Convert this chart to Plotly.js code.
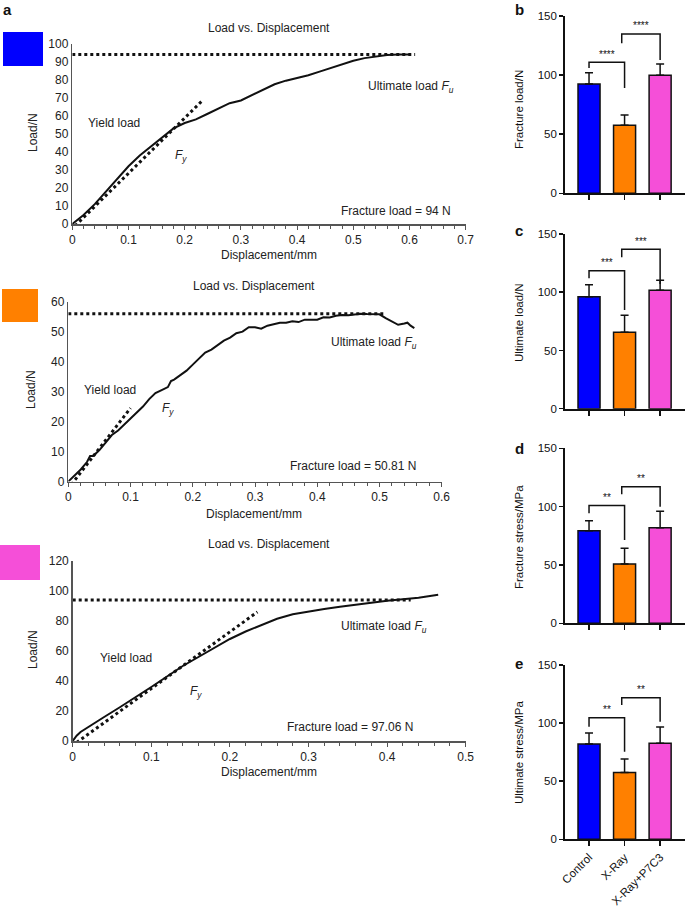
<!DOCTYPE html>
<html><head><meta charset="utf-8">
<script src="https://cdn.plot.ly/plotly-3.0.1.min.js"></script>
<style>html,body{margin:0;padding:0;background:#fff}#chart{width:685px;height:909px}</style>
</head><body><div id="chart"></div>
<script>
// ---------- Data: panel a (load vs displacement curves) ----------
const disp1 = [0,0.02,0.04,0.06,0.08,0.1,0.12,0.14,0.16,0.18,0.2,0.22,0.24,0.26,0.28,0.3,0.32,0.34,0.36,0.38,0.4,0.42,0.44,0.46,0.48,0.5,0.52,0.54,0.56,0.58,0.6];
const load1 = [0,5,11,18,25,32,38,43,48,53,56,58,61,64,67,68.5,71.5,74.5,77.5,79.5,81,82.5,84.5,86.5,88.5,90.5,92,93,93.7,94,94];
const ultLine1X = [0,0.61], ultLine1Y = [94,94];
const yieldLine1X = [0.005,0.23], yieldLine1Y = [-1,68];

const disp2 = [0,0.01,0.02,0.03,0.035,0.04,0.05,0.06,0.07,0.08,0.09,0.1,0.11,0.12,0.13,0.14,0.15,0.16,0.165,0.17,0.18,0.19,0.2,0.21,0.22,0.23,0.24,0.25,0.26,0.27,0.28,0.29,0.3,0.31,0.32,0.33,0.34,0.35,0.36,0.37,0.38,0.39,0.4,0.41,0.42,0.43,0.44,0.45,0.46,0.47,0.48,0.49,0.5,0.51,0.52,0.53,0.54,0.545,0.55,0.556];
const load2 = [0,2,4,6.5,8.5,8.5,10.5,13,15.5,17,19,21,23,25,27.5,29.5,30.5,31.5,33.5,34,35.5,37,39,41,43,44,45.5,47,48,49.5,50,51.5,51.5,51,52,52.5,53,53,53.5,53.2,54,54,54,54.8,54.7,55.3,55.6,55.5,55.7,56,55.9,55.9,55.8,54.5,53.5,52.3,52.7,53,52,51.2];
const ultLine2X = [0,0.51], ultLine2Y = [56,56];
const yieldLine2X = [0.005,0.1], yieldLine2Y = [-1,24.5];

const disp3 = [0,0.005,0.01,0.02,0.04,0.06,0.08,0.1,0.12,0.14,0.16,0.18,0.2,0.22,0.24,0.26,0.28,0.3,0.32,0.34,0.36,0.38,0.4,0.42,0.44,0.465];
const load3 = [0,3.5,6,9.5,16,22.5,29,36,43,50,56,62,68,73,77.5,81.5,84.5,86.5,88,89.5,91,92.5,93.5,94.5,95.5,97.5];
const ultLine3X = [0,0.43], ultLine3Y = [94,94];
const yieldLine3X = [0.005,0.235], yieldLine3Y = [-1,86];

const fractureTexts = ['Fracture load = 94 N','Fracture load = 50.81 N','Fracture load = 97.06 N'];

// ---------- Data: panels b-e (bar charts) ----------
const groups = ['Control','X-Ray','X-Ray+P7C3'];
const fractureLoad = [92.5,57.5,99.8], fractureLoadErr = [9.5,8.8,9.6];
const ultimateLoad = [96.2,65.6,101.6], ultimateLoadErr = [10.3,14.6,8.6];
const fractureStress = [79.4,50.9,82], fractureStressErr = [8.6,13.4,14];
const ultimateStress = [82,57.4,82.6], ultimateStressErr = [9.5,11.7,14];
// brackets: [top, leftLegEnd, rightLegEnd] for (Control vs X-Ray) and (X-Ray vs X-Ray+P7C3)
const bracketsB = [[110.8,106,89],[134.8,127,112.8]];
const bracketsC = [[118.5,112,84.7],[137,130,107]];
const bracketsD = [[100.9,94.3,71.4],[117,110.6,100]];
const bracketsE = [[104.7,96.9,75.4],[121.9,115.6,101.2]];
const starsB = '****', starsC = '***', starsD = '**', starsE = '**';
const barTitles = ['Fracture load/N','Ultimate load/N','Fracture stress/MPa','Ultimate stress/MPa'];

// ---------- Style ----------
const W = 685, H = 909;
const FONT = 'Liberation Sans, Arial, Helvetica, sans-serif';
const colors = ['#0000ff','#ff8000','#f54fd8'];
const px = x => x / W, py = y => 1 - y / H;

const traces = [];
const layout = {
  width: W, height: H, margin: {l:0,r:0,t:0,b:0},
  paper_bgcolor: '#fff', plot_bgcolor: 'rgba(0,0,0,0)',
  showlegend: false, font: {family: FONT, size: 12, color: '#222'},
  shapes: [], annotations: []
};
const annP = (x, y, text, extra) => layout.annotations.push(Object.assign({
  xref: 'paper', yref: 'paper', x: px(x), y: py(y), text: text, showarrow: false,
  xanchor: 'center', yanchor: 'middle', font: {size: 12, color: '#222'}}, extra || {}));

// Left panels
const leftPanels = [
  {dx: disp1, dy: load1, ux: ultLine1X, uy: ultLine1Y, yx: yieldLine1X, yy: yieldLine1Y,
   xdom: [72.3,465.7], ytop: 43.7, ybot: 224, xr: [0,0.7], yr: [0,100], ydt: 10,
   title: [269,28], yl: [114,123], fy: [181,156], ul: [411,87], fr: [396,211], ylab: [33,133], xlab: [269,255],
   sq: [3,32,43,66]},
  {dx: disp2, dy: load2, ux: ultLine2X, uy: ultLine2Y, yx: yieldLine2X, yy: yieldLine2Y,
   xdom: [68.3,441.7], ytop: 301.7, ybot: 481.5, xr: [0,0.6], yr: [0,60], ydt: 10,
   title: [254,286], yl: [110,390], fy: [168,409], ul: [374,343], fr: [353,466], ylab: [31,390], xlab: [254,514],
   sq: [2,289,38,322]},
  {dx: disp3, dy: load3, ux: ultLine3X, uy: ultLine3Y, yx: yieldLine3X, yy: yieldLine3Y,
   xdom: [72.7,465.7], ytop: 561, ybot: 741, xr: [0,0.5], yr: [0,120], ydt: 20,
   title: [269,544], yl: [126,658], fy: [196,692], ul: [384,627], fr: [350,727], ylab: [33,650], xlab: [269,772],
   sq: [0,545,40,580]}
];

leftPanels.forEach((p, i) => {
  const n = i + 1, xa = 'x' + n, ya = 'y' + n;
  const xk = 'xaxis' + (n === 1 ? '' : n), yk = 'yaxis' + (n === 1 ? '' : n);
  traces.push({x: p.dx, y: p.dy, xaxis: xa, yaxis: ya, type: 'scatter', mode: 'lines',
    line: {color: '#111', width: 2}, hoverinfo: 'skip'});
  traces.push({x: p.ux, y: p.uy, xaxis: xa, yaxis: ya, type: 'scatter', mode: 'lines',
    line: {color: '#111', width: 3, dash: 'dot'}, hoverinfo: 'skip'});
  traces.push({x: p.yx, y: p.yy, xaxis: xa, yaxis: ya, type: 'scatter', mode: 'lines',
    line: {color: '#111', width: 3, dash: 'dot'}, hoverinfo: 'skip'});
  layout[xk] = {domain: [px(p.xdom[0]), px(p.xdom[1])], range: p.xr, anchor: ya,
    showgrid: false, zeroline: false, showline: true, linecolor: '#555', linewidth: 1.5,
    ticks: 'outside', ticklen: 4, tickcolor: '#555', dtick: 0.1, tick0: 0,
    tickfont: {size: 12, color: '#222'},
    minor: {dtick: 0.02, ticks: 'outside', ticklen: 3, tickcolor: '#555', showgrid: false}};
  layout[yk] = {domain: [py(p.ybot), py(p.ytop)], range: p.yr, anchor: xa,
    showgrid: false, zeroline: false, showline: true, linecolor: '#555', linewidth: 1.5,
    ticks: '', dtick: p.ydt, tick0: 0, tickfont: {size: 12, color: '#222'}};
  annP(p.title[0], p.title[1], 'Load vs. Displacement');
  annP(p.yl[0], p.yl[1], 'Yield load');
  annP(p.fy[0], p.fy[1], '<i>F</i><sub><i>y</i></sub>');
  annP(p.ul[0], p.ul[1], 'Ultimate load <i>F</i><sub><i>u</i></sub>');
  annP(p.fr[0], p.fr[1], fractureTexts[i]);
  annP(p.ylab[0], p.ylab[1], 'Load/N', {textangle: -90});
  annP(p.xlab[0], p.xlab[1], 'Displacement/mm');
  layout.shapes.push({type: 'rect', xref: 'paper', yref: 'paper',
    x0: px(p.sq[0]), x1: px(p.sq[2]), y0: py(p.sq[3]), y1: py(p.sq[1]),
    fillcolor: colors[i], line: {width: 0}});
});

// Bar panels
const barPanels = [
  {v: fractureLoad, e: fractureLoadErr, br: bracketsB, st: starsB, top: 16, bot: 193.3, lab: 'b', ly: 10, ty: 110},
  {v: ultimateLoad, e: ultimateLoadErr, br: bracketsC, st: starsC, top: 234, bot: 408.7, lab: 'c', ly: 230, ty: 323},
  {v: fractureStress, e: fractureStressErr, br: bracketsD, st: starsD, top: 448.3, bot: 623.3, lab: 'd', ly: 448, ty: 537},
  {v: ultimateStress, e: ultimateStressErr, br: bracketsE, st: starsE, top: 665, bot: 839.3, lab: 'e', ly: 663, ty: 753}
];
const xIdx = [0,1,2];
barPanels.forEach((p, i) => {
  const n = i + 4, xa = 'x' + n, ya = 'y' + n;
  traces.push({x: xIdx, y: p.v, xaxis: xa, yaxis: ya, type: 'bar', width: 0.62,
    marker: {color: colors, line: {color: '#111', width: 1.5}},
    error_y: {type: 'data', array: p.e, arrayminus: p.e.map(() => 0), symmetric: false,
      color: '#111', thickness: 1.5, width: 4},
    hoverinfo: 'skip'});
  layout['xaxis' + n] = {domain: [px(565), 1], range: [-0.676, 2.70], anchor: ya,
    showgrid: false, zeroline: false, showline: true, linecolor: '#111', linewidth: 1.8,
    ticks: 'outside', ticklen: 5, tickwidth: 1.5, tickcolor: '#111',
    tickvals: xIdx, ticktext: i === 3 ? groups : ['', '', ''], tickangle: -45,
    tickfont: {size: 11.5, color: '#111'}};
  layout['yaxis' + n] = {domain: [py(p.bot), py(p.top)], range: [0, 150], anchor: xa,
    showgrid: false, zeroline: false, showline: true, linecolor: '#111', linewidth: 1.8,
    ticks: 'outside', ticklen: 4, tickwidth: 1.5, tickcolor: '#111',
    tickvals: [0, 50, 100, 150], tickfont: {size: 11.5, color: '#111'}};
  const pairs = [[0, 1], [0.92, 2]];
  p.br.forEach((b, k) => {
    const [a, c] = pairs[k];
    layout.shapes.push({type: 'path', xref: xa, yref: ya,
      path: `M ${a},${b[1]} L ${a},${b[0]} L ${c},${b[0]} L ${c},${b[2]}`,
      line: {color: '#111', width: 1.5}});
    layout.annotations.push({xref: xa, yref: ya, x: (a + c) / 2, y: b[0] + 0.5, text: p.st,
      showarrow: false, xanchor: 'center', yanchor: 'bottom', font: {size: 10, color: '#111'}});
  });
  annP(519, p.ty, barTitles[i], {textangle: -90, font: {size: 11.5, color: '#111'}});
  annP(519, p.ly, '<b>' + p.lab + '</b>', {font: {size: 15, color: '#111'}});
});
annP(8, 10, '<b>a</b>', {font: {size: 15, color: '#111'}});

Plotly.newPlot('chart', traces, layout, {staticPlot: true, displayModeBar: false});
</script></body></html>
